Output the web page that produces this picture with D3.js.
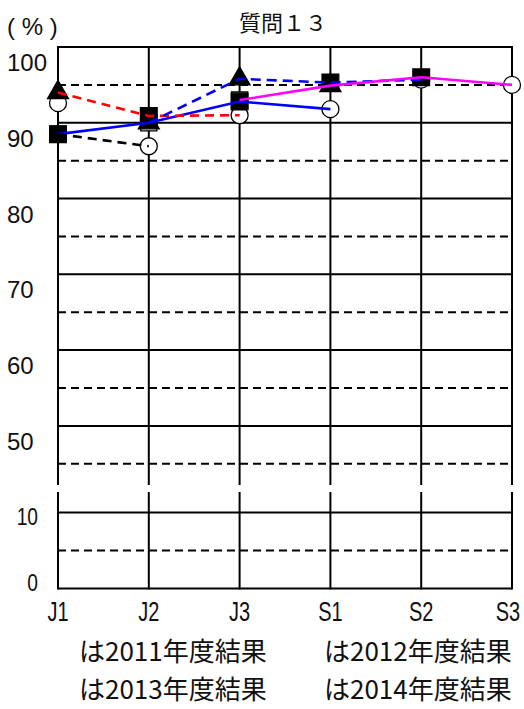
<!DOCTYPE html>
<html><head><meta charset="utf-8">
<script src="https://cdn.jsdelivr.net/npm/d3@7"></script>
<style>body{margin:0;background:#fff} svg{display:block}
.lat{font-family:'Liberation Sans',Arial,sans-serif}
.cjk{font-family:'Noto Sans CJK JP',sans-serif}</style>
</head><body><svg id="c" width="524" height="709"></svg>
<script>
const grades = ["J1","J2","J3","S1","S2","S3"];
const years = ["2011","2012","2013","2014"];
const v2011 = [88.5, 90.0, 93.0, null, null, null];
const v2012 = [94.0, 90.0, 95.8, 94.9, null, null];
const v2013 = [88.5, 90.9, 92.8, 95.3, 96.0, null];
const v2014 = [92.6, 86.9, 91.0, 91.8, 95.7, 95.0];
const upperTicks = [100, 90, 80, 70, 60, 50];
const upperDashed = [95, 85, 75, 65, 55, 45];
const lowerTicks = [10, 0];
const lowerDashed = [5];
// cohort lines: start grade index, start year index
const cohortStartGrade = [0, 0, 0, 1, 2];
const cohortStartYear = [0, 1, 2, 0, 0];
const cohortColor = ["#0000ff", "#ff0000", "#000000", "#0000ff", "#ff00ff"];
const cohortDash = [null, "9,6", "9,6", "10,6", null];
const legendLabels = ["は2011年度結果", "は2012年度結果", "は2013年度結果", "は2014年度結果"];
const titleText = "質問１３";
const unitText = "( % )";

const yearVals = [v2011, v2012, v2013, v2014];
const svg = d3.select("#c");
const x = d3.scalePoint(grades, [58, 512]);
const yUp = d3.scaleLinear([42.2, 100], [485, 47]);
const yLow = d3.scaleLinear([0, 12.7], [588.5, 492]);
const yv = v => v >= 42.2 ? yUp(v) : yLow(v);
const x0 = x(grades[0]), x1 = x(grades[grades.length - 1]);

const grid = svg.append("g").attr("stroke", "#000").attr("stroke-width", 2);
grades.forEach(g => {
  grid.append("line").attr("x1", x(g)).attr("x2", x(g)).attr("y1", yUp(100) - 1).attr("y2", yUp(42.2));
  grid.append("line").attr("x1", x(g)).attr("x2", x(g)).attr("y1", yLow(12.7)).attr("y2", yLow(0) + 1);
});
upperTicks.forEach(t => grid.append("line").attr("x1", x0).attr("x2", x1).attr("y1", yUp(t)).attr("y2", yUp(t)));
lowerTicks.forEach(t => grid.append("line").attr("x1", x0).attr("x2", x1).attr("y1", yLow(t)).attr("y2", yLow(t)));
upperDashed.forEach(t => grid.append("line").attr("x1", x0).attr("x2", x1).attr("y1", yUp(t)).attr("y2", yUp(t)).attr("stroke-dasharray", "8,5"));
lowerDashed.forEach(t => grid.append("line").attr("x1", x0).attr("x2", x1).attr("y1", yLow(t)).attr("y2", yLow(t)).attr("stroke-dasharray", "8,5"));

// y labels
svg.append("g").selectAll("text").data(upperTicks).join("text").attr("class", "lat")
  .attr("x", 7).attr("y", d => yUp(d) + 24)
  .attr("font-size", 24).attr("fill", "#111")
  .text(d => d);
svg.append("g").selectAll("text").data(lowerTicks).join("text").attr("class", "lat")
  .attr("transform", d => `translate(38,${Math.min(yLow(d) + 12, 591)}) scale(0.8,1)`)
  .attr("text-anchor", "end")
  .attr("font-size", 24).attr("fill", "#111")
  .text(d => d);
// x labels
svg.append("g").selectAll("text").data(grades).join("text").attr("class", "lat")
  .attr("transform", d => `translate(${Math.min(x(d), 508)},621) scale(0.74,1)`)
  .attr("text-anchor", "middle")
  .attr("font-size", 27).attr("fill", "#111")
  .text(d => d);

// title & unit
svg.append("text").attr("class", "cjk").attr("x", 283).attr("y", 31).attr("text-anchor", "middle")
  .attr("font-size", 22).attr("fill", "#111").text(titleText);
svg.append("text").attr("class", "lat").attr("x", 7).attr("y", 35)
  .attr("font-size", 24).attr("fill", "#111").text(unitText);

// legend
svg.append("g").selectAll("text").data(legendLabels).join("text").attr("class", "cjk")
  .attr("x", (d, i) => i % 2 === 0 ? 79 : 324)
  .attr("y", (d, i) => i < 2 ? 661 : 699)
  .attr("font-size", 26).attr("fill", "#111")
  .text(d => d);

// markers
const yearSymbol = [d3.symbolSquare, d3.symbolTriangle, d3.symbolSquare, d3.symbolCircle];
const yearSize = [260, 190, 280, 227];
const yearFill = ["#fff", "#000", "#000", "#fff"];
const drawOrder = [3, 0, 1, 2];
const mk = svg.append("g");
drawOrder.forEach(yi => {
  const pts = grades.map((g, gi) => ({ g, v: yearVals[yi][gi] })).filter(d => d.v != null);
  mk.append("g").selectAll("path").data(pts).join("path")
    .attr("transform", d => `translate(${x(d.g)},${yv(d.v)})`)
    .attr("d", d3.symbol(yearSymbol[yi], yearSize[yi]))
    .attr("fill", yearFill[yi]).attr("stroke", "#000").attr("stroke-width", 1.3);
});

// cohort lines
const line = d3.line().x(d => x(d.g)).y(d => yv(d.v));
cohortStartGrade.forEach((sg, ci) => {
  const pts = [];
  for (let k = 0; sg + k < grades.length && cohortStartYear[ci] + k < years.length; k++) {
    const v = yearVals[cohortStartYear[ci] + k][sg + k];
    if (v != null) pts.push({ g: grades[sg + k], v });
  }
  svg.append("path").datum(pts).attr("d", line).attr("fill", "none")
    .attr("stroke", cohortColor[ci]).attr("stroke-width", 2.6)
    .attr("stroke-dasharray", cohortDash[ci]);
});
</script></body></html>
